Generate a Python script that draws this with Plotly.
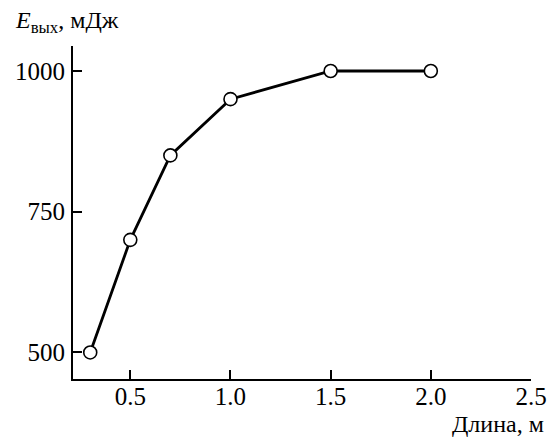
import plotly.graph_objects as go

length_m = [0.3, 0.5, 0.7, 1.0, 1.5, 2.0]
energy_mJ = [500, 700, 850, 950, 1000, 1000]
x_ticks = [0.5, 1.0, 1.5, 2.0, 2.5]
x_tick_labels = ["0.5", "1.0", "1.5", "2.0", "2.5"]
y_ticks = [500, 750, 1000]
y_tick_labels = ["500", "750", "1000"]

FONT = "Liberation Serif, Times New Roman, serif"

fig = go.Figure()
fig.add_trace(go.Scatter(
    x=length_m, y=energy_mJ, mode="lines+markers",
    line=dict(color="black", width=2.8),
    marker=dict(symbol="circle", size=13, color="white",
                line=dict(color="black", width=1.6)),
    cliponaxis=False, showlegend=False,
))

W, H = 559, 439
L, R, T, B = 73, 24, 46, 60

fig.update_layout(
    width=W, height=H,
    margin=dict(l=L, r=R, t=T, b=B),
    paper_bgcolor="white", plot_bgcolor="white",
    font=dict(family=FONT, size=25, color="black"),
    xaxis=dict(
        range=[0.214, 2.5], tickvals=x_ticks, ticktext=x_tick_labels,
        showline=True, linecolor="black", linewidth=2.2,
        ticks="inside", ticklen=9, tickwidth=2.2, tickcolor="black",
        showgrid=False, zeroline=False, ticklabelstandoff=-6,
        tickfont=dict(family=FONT, size=25, color="black"),
    ),
    yaxis=dict(
        range=[452.8, 1044.4], tickvals=y_ticks, ticktext=y_tick_labels,
        showline=True, linecolor="black", linewidth=2.2,
        ticks="inside", ticklen=9, tickwidth=2.2, tickcolor="black",
        showgrid=False, zeroline=False, ticklabelstandoff=1,
        tickfont=dict(family=FONT, size=25, color="black"),
    ),
    annotations=[
        dict(text="<i>E</i><sub>вых</sub>, мДж", xref="paper", yref="paper",
             x=-(L - 12) / (W - L - R), y=1 + (T - 22) / (H - T - B),
             xanchor="left", yanchor="middle", showarrow=False,
             font=dict(family=FONT, size=24, color="black")),
        dict(text="Длина, м", xref="paper", yref="paper",
             x=1 + (550 - (W - R)) / (W - L - R), y=-(424 - (H - B)) / (H - T - B),
             xanchor="right", yanchor="middle", showarrow=False,
             font=dict(family=FONT, size=24, color="black")),
    ],
)

fig.write_html(
    "out.html",
    config={"displayModeBar": False},
    post_script="document.body.style.margin='0';document.body.style.overflow='hidden';",
)
